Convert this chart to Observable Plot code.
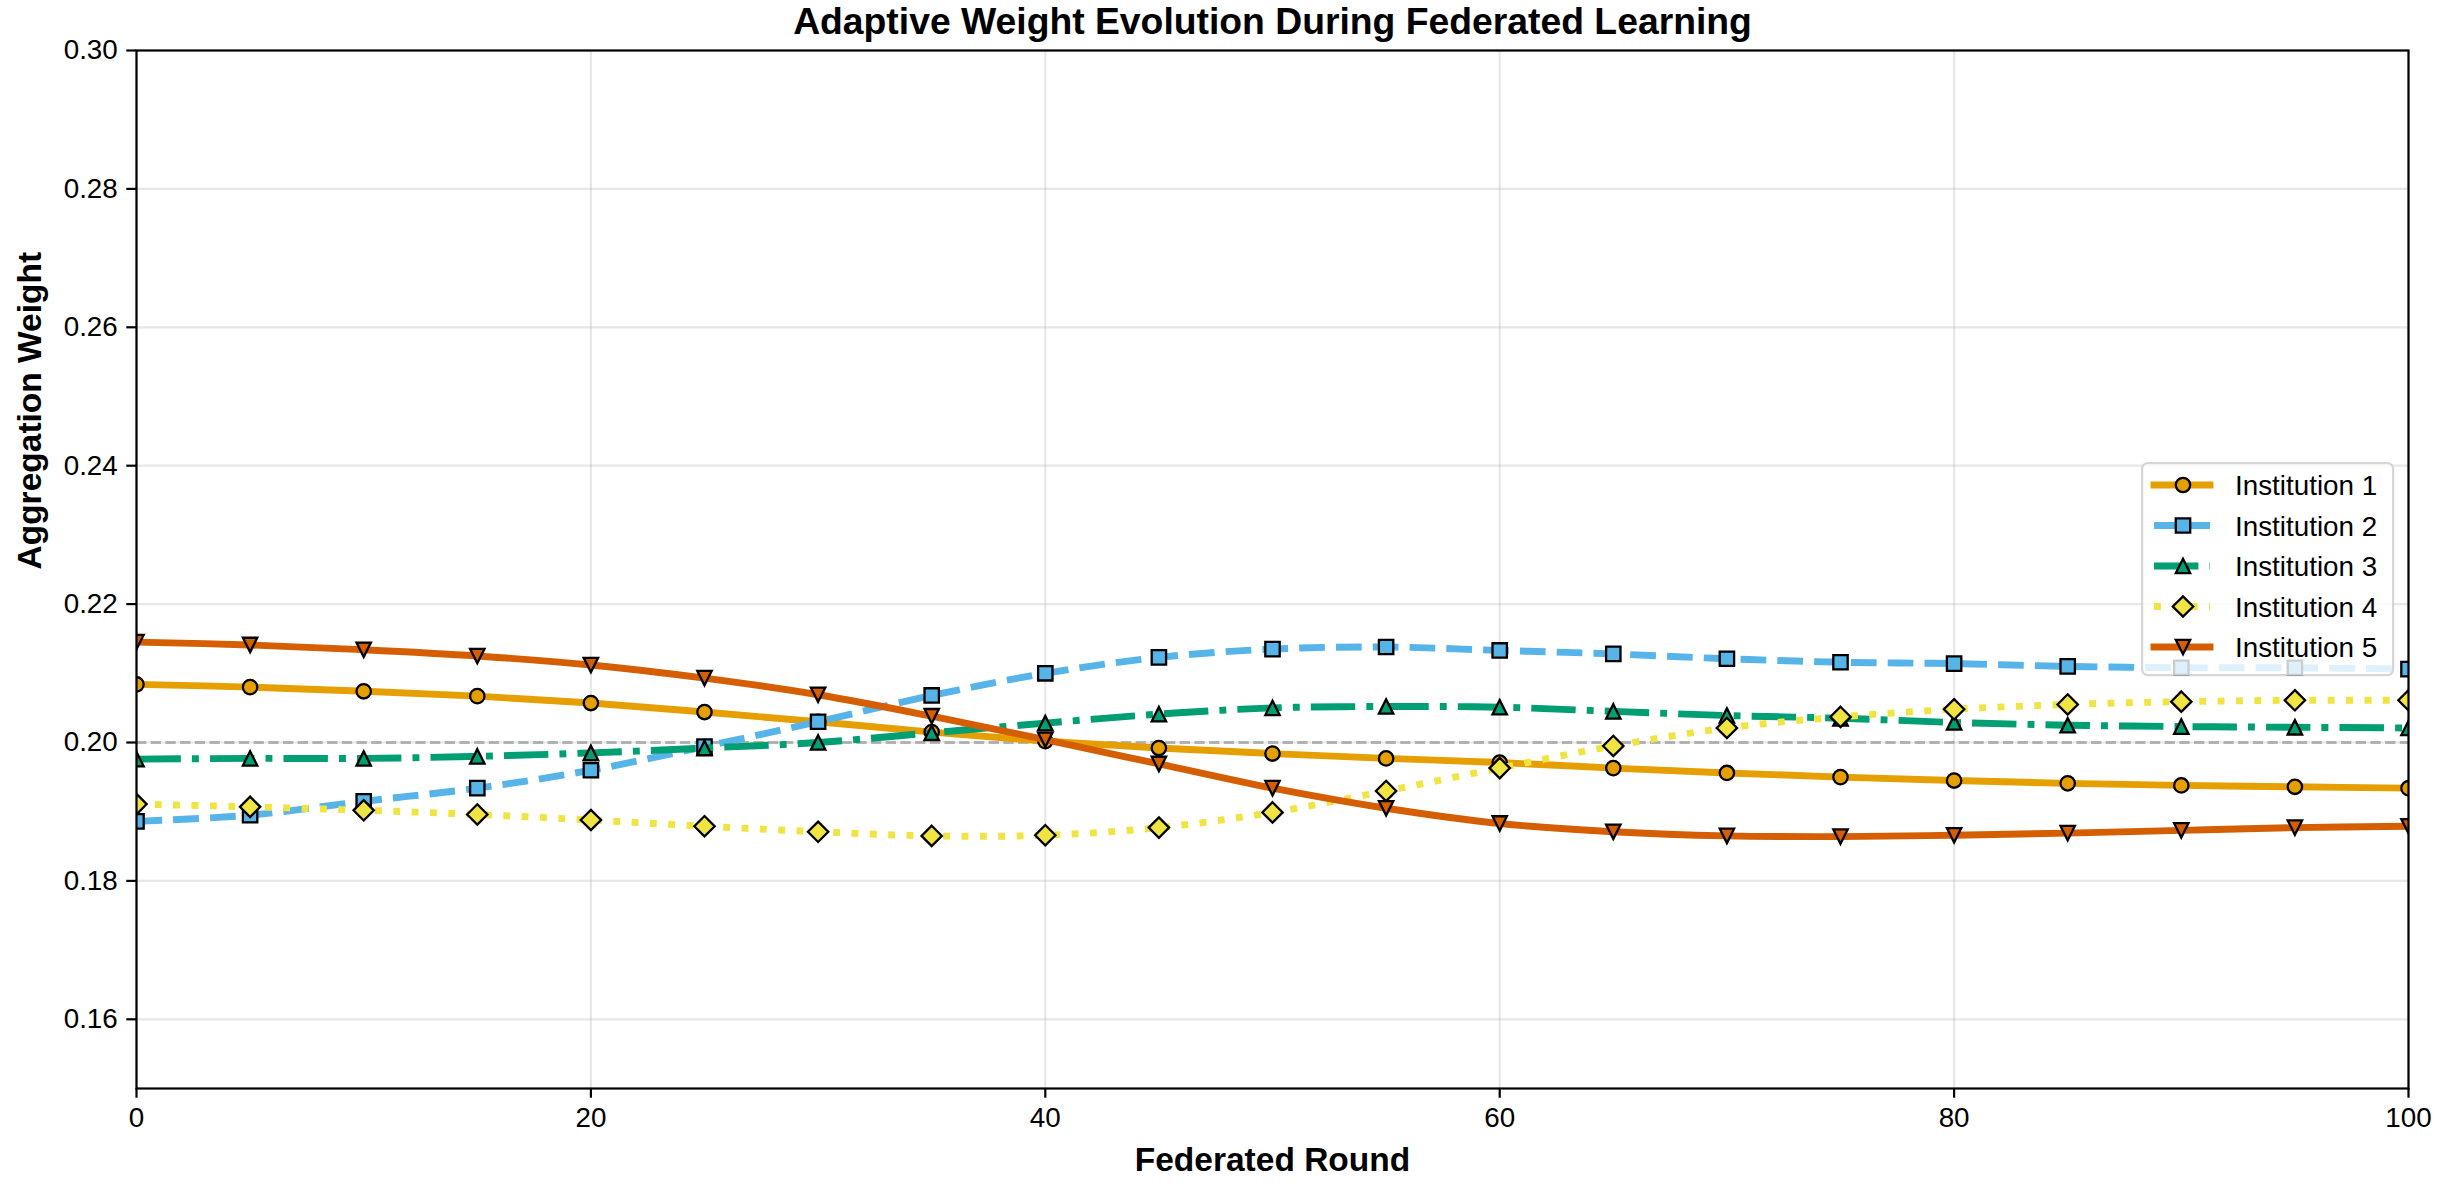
<!DOCTYPE html>
<html><head><meta charset="utf-8">
<script src="https://cdn.jsdelivr.net/npm/d3@7"></script>
<script src="https://cdn.jsdelivr.net/npm/@observablehq/plot@0.6"></script>
<style>
body{margin:0;background:#fff;}
#wrap{position:relative;width:2444px;height:1193px;overflow:hidden;}
#legend{position:absolute;left:2141px;top:462px;}
</style></head><body><div id="wrap"></div>
<script>
// ---- data ----
const rounds = [0,5,10,15,20,25,30,35,40,45,50,55,60,65,70,75,80,85,90,95,100];
const inst1 = [0.2084,0.2080,0.2074,0.2067,0.2057,0.2044,0.2030,0.2015,0.2002,0.1992,0.1984,0.1977,0.1971,0.1963,0.1956,0.1950,0.1945,0.1941,0.1938,0.1936,0.1934];
const inst2 = [0.1886,0.1895,0.1915,0.1934,0.1960,0.1994,0.2030,0.2068,0.2100,0.2123,0.2135,0.2138,0.2133,0.2128,0.2121,0.2116,0.2114,0.2110,0.2108,0.2108,0.2106];
const inst3 = [0.1976,0.1977,0.1977,0.1980,0.1985,0.1992,0.2000,0.2014,0.2028,0.2041,0.2050,0.2052,0.2051,0.2045,0.2039,0.2035,0.2029,0.2025,0.2023,0.2022,0.2021];
const inst4 = [0.1911,0.1907,0.1902,0.1896,0.1888,0.1879,0.1871,0.1865,0.1866,0.1877,0.1899,0.1930,0.1963,0.1995,0.2021,0.2037,0.2048,0.2055,0.2059,0.2061,0.2061];
const inst5 = [0.2145,0.2141,0.2134,0.2125,0.2112,0.2093,0.2069,0.2038,0.2004,0.1969,0.1934,0.1905,0.1883,0.1871,0.1865,0.1864,0.1866,0.1869,0.1873,0.1877,0.1879];
const seriesNames = ["Institution 1","Institution 2","Institution 3","Institution 4","Institution 5"];
const seriesValues = [inst1, inst2, inst3, inst4, inst5];
const xTicks = [0,20,40,60,80,100];
const yTicks = [0.16,0.18,0.20,0.22,0.24,0.26,0.28,0.30];
const referenceWeight = [0.2];
const titleText = "Adaptive Weight Evolution During Federated Learning";
const xLabel = "Federated Round";
const yLabel = "Aggregation Weight";

// ---- styles ----
const colors = ["#E69F00","#56B4E9","#009E73","#F0E442","#D55E00"];
const LW = 6.9;
const dashes = [null, "25.7,11.1", "44.4,11.1,6.9,11.1", "6.9,11.45", null];
const FONT = "'Liberation Sans', Arial, Helvetica, sans-serif";
const rad = s => Math.sqrt(s / Math.PI);
const symCircle = {draw(c, s){const r = rad(s); c.moveTo(r,0); c.arc(0,0,r,0,2*Math.PI); c.closePath();}};
const symSquare = {draw(c, s){const r = rad(s); c.moveTo(-r,-r); c.lineTo(r,-r); c.lineTo(r,r); c.lineTo(-r,r); c.closePath();}};
const symTriUp = {draw(c, s){const r = rad(s); c.moveTo(0,-r); c.lineTo(r,r); c.lineTo(-r,r); c.closePath();}};
const symDiamond = {draw(c, s){const k = rad(s)*Math.SQRT2; c.moveTo(0,-k); c.lineTo(k,0); c.lineTo(0,k); c.lineTo(-k,0); c.closePath();}};
const symTriDown = {draw(c, s){const r = rad(s); c.moveTo(0,r); c.lineTo(r,-r); c.lineTo(-r,-r); c.closePath();}};
const symbols = [symCircle, symSquare, symTriUp, symDiamond, symTriDown];
const MR = 7.2;
const MSW = 2.3;

const seriesMarks = seriesValues.flatMap((vals, i) => [
  Plot.line(rounds, {x: rounds, y: vals, stroke: colors[i], strokeWidth: LW,
    strokeDasharray: dashes[i] || undefined, strokeLinecap: "butt", strokeLinejoin: "round",
    curve: "catmull-rom", clip: true}),
  Plot.dot(rounds, {x: rounds, y: vals, r: MR, symbol: symbols[i], fill: colors[i],
    stroke: "black", strokeWidth: MSW, clip: true})
]);

const chart = Plot.plot({
  width: 2444, height: 1193,
  marginLeft: 136, marginRight: 36, marginTop: 50, marginBottom: 105,
  x: {domain: [0, 100]},
  y: {domain: [0.15, 0.30]},
  style: {fontFamily: FONT, fontSize: "27.8px", color: "black", background: "white"},
  marks: [
    Plot.gridX(xTicks, {stroke: "#b0b0b0", strokeOpacity: 0.3, strokeWidth: 2.2}),
    Plot.gridY(yTicks, {stroke: "#b0b0b0", strokeOpacity: 0.3, strokeWidth: 2.2}),
    Plot.ruleY(referenceWeight, {stroke: "gray", strokeOpacity: 0.55, strokeWidth: 2.8, strokeDasharray: "10.3,4.4"}),
    ...seriesMarks,
    Plot.frame({stroke: "black", strokeWidth: 2.2}),
    Plot.axisX({ticks: xTicks, tickSize: 9.7, tickPadding: 9, strokeWidth: 2.2, label: null, tickFormat: d => String(d), fill: "black"}),
    Plot.axisY({ticks: yTicks, tickSize: 9.7, tickPadding: 9, strokeWidth: 2.2, label: null, tickFormat: d3.format(".2f"), fill: "black"}),
    Plot.text([titleText], {frameAnchor: "top", dy: -16.5, lineAnchor: "bottom", fontSize: 37.3, fontWeight: "bold", fill: "black"}),
    Plot.text([xLabel], {frameAnchor: "bottom", dy: 82, lineAnchor: "bottom", fontSize: 33.5, fontWeight: "bold", fill: "black"}),
    Plot.text([yLabel], {frameAnchor: "left", dx: -96, rotate: -90, lineAnchor: "bottom", fontSize: 33.5, fontWeight: "bold", fill: "black"})
  ]
});
document.getElementById("wrap").appendChild(chart);

// ---- legend ----
const leg = d3.create("svg").attr("id", "legend").attr("width", 256).attr("height", 216)
  .style("font-family", FONT);
leg.append("rect").attr("x", 1.1).attr("y", 1.1).attr("width", 251).attr("height", 212).attr("rx", 5.6)
  .attr("fill", "white").attr("fill-opacity", 0.8).attr("stroke", "#cccccc").attr("stroke-opacity", 0.8).attr("stroke-width", 2.2);
seriesNames.forEach((name, i) => {
  const cy = 23 + 40.5 * i;
  const g = leg.append("g");
  g.append("line").attr("x1", 13).attr("x2", 69).attr("y1", cy).attr("y2", cy)
    .attr("stroke", colors[i]).attr("stroke-width", LW)
    .attr("stroke-linecap", dashes[i] ? "butt" : "square")
    .attr("stroke-dasharray", dashes[i]);
  g.append("path").attr("transform", `translate(42,${cy})`)
    .attr("d", d3.symbol().type(symbols[i]).size(Math.PI * MR * MR)())
    .attr("fill", colors[i]).attr("stroke", "black").attr("stroke-width", MSW);
  g.append("text").attr("x", 94).attr("y", cy + 10).attr("font-size", 27.8).attr("fill", "black").text(name);
});
document.getElementById("wrap").appendChild(leg.node());
</script>
</body></html>
